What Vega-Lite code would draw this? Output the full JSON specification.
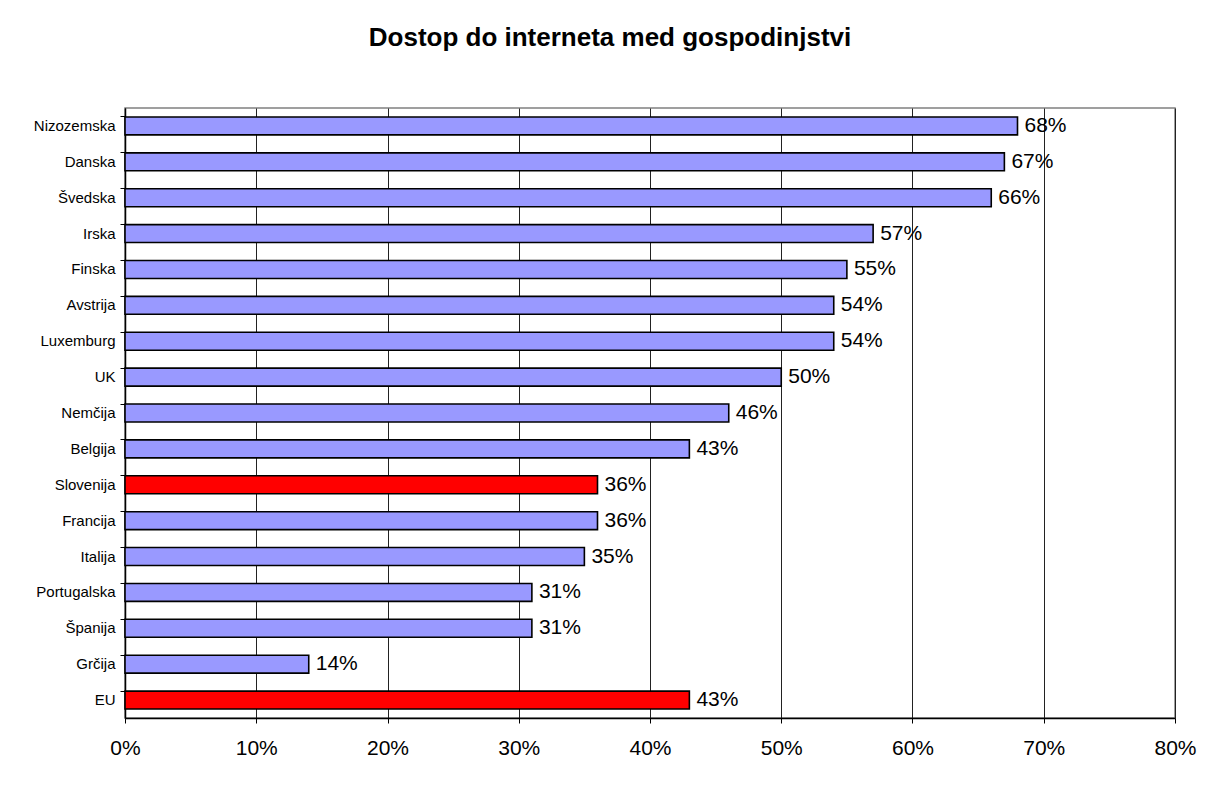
{
  "$schema": "https://vega.github.io/schema/vega-lite/v6.json",
  "autosize": {"type": "none"},
  "width": 1050,
  "height": 610,
  "padding": {"left": 125, "top": 108, "right": 35, "bottom": 72},
  "background": "white",
  "title": {
    "text": "Dostop do interneta med gospodinjstvi",
    "font": "Liberation Sans",
    "fontSize": 26,
    "fontWeight": "bold",
    "color": "black",
    "anchor": "middle",
    "dx": -40,
    "offset": 57
  },
  "config": {
    "view": {"stroke": "#808080", "strokeWidth": 1.5},
    "font": "Liberation Sans"
  },
  "data": {
    "values": [
      {"country": "Nizozemska", "value": 0.68, "group": "a"},
      {"country": "Danska", "value": 0.67, "group": "a"},
      {"country": "Švedska", "value": 0.66, "group": "a"},
      {"country": "Irska", "value": 0.57, "group": "a"},
      {"country": "Finska", "value": 0.55, "group": "a"},
      {"country": "Avstrija", "value": 0.54, "group": "a"},
      {"country": "Luxemburg", "value": 0.54, "group": "a"},
      {"country": "UK", "value": 0.50, "group": "a"},
      {"country": "Nemčija", "value": 0.46, "group": "a"},
      {"country": "Belgija", "value": 0.43, "group": "a"},
      {"country": "Slovenija", "value": 0.36, "group": "b"},
      {"country": "Francija", "value": 0.36, "group": "a"},
      {"country": "Italija", "value": 0.35, "group": "a"},
      {"country": "Portugalska", "value": 0.31, "group": "a"},
      {"country": "Španija", "value": 0.31, "group": "a"},
      {"country": "Grčija", "value": 0.14, "group": "a"},
      {"country": "EU", "value": 0.43, "group": "b"}
    ]
  },
  "encoding": {
    "y": {
      "field": "country",
      "type": "nominal",
      "sort": null,
      "scale": {"paddingInner": 0.5, "paddingOuter": 0.25},
      "axis": {
        "title": null,
        "bandPosition": 0,
        "labelFontSize": 15,
        "labelColor": "black",
        "labelPadding": 5,
        "tickSize": 5,
        "tickColor": "black",
        "domainColor": "black",
        "domainWidth": 1.5,
        "grid": false
      }
    },
    "x": {
      "field": "value",
      "type": "quantitative",
      "scale": {"domain": [0, 0.8], "nice": false},
      "axis": {
        "title": null,
        "format": ".0%",
        "values": [0, 0.1, 0.2, 0.3, 0.4, 0.5, 0.6, 0.7, 0.8],
        "labelFontSize": 21,
        "labelColor": "black",
        "labelPadding": 14,
        "tickSize": 5,
        "tickColor": "black",
        "domainColor": "black",
        "domainWidth": 1.5,
        "grid": true,
        "gridColor": "#222",
        "gridWidth": 1,
        "labelFlush": false
      }
    }
  },
  "layer": [
    {
      "mark": {"type": "bar", "stroke": "black", "strokeWidth": 1.6},
      "encoding": {
        "color": {
          "field": "group",
          "type": "nominal",
          "scale": {"domain": ["a", "b"], "range": ["#9999FF", "#FF0000"]},
          "legend": null
        }
      }
    },
    {
      "mark": {"type": "text", "align": "left", "dx": 7, "fontSize": 21, "color": "black", "baseline": "middle"},
      "encoding": {
        "text": {"field": "value", "type": "quantitative", "format": ".0%"}
      }
    }
  ]
}
